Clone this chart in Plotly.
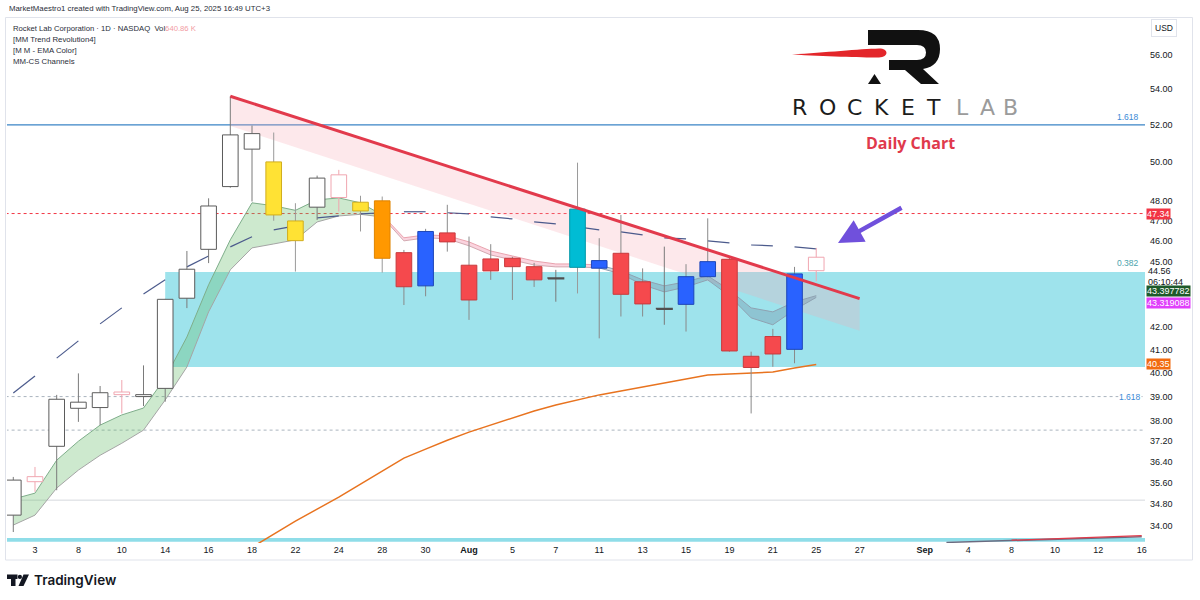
import math
import re
import pandas as pd
import plotly.graph_objects as go

# ---------------- data ----------------
candle_dates = [
    "2025-07-02", "2025-07-03", "2025-07-07", "2025-07-08", "2025-07-09", "2025-07-10",
    "2025-07-11", "2025-07-14", "2025-07-15", "2025-07-16", "2025-07-17", "2025-07-18",
    "2025-07-21", "2025-07-22", "2025-07-23", "2025-07-24", "2025-07-25", "2025-07-28",
    "2025-07-29", "2025-07-30", "2025-07-31", "2025-08-01", "2025-08-04", "2025-08-05",
    "2025-08-06", "2025-08-07", "2025-08-08", "2025-08-11", "2025-08-12", "2025-08-13",
    "2025-08-14", "2025-08-15", "2025-08-18", "2025-08-19", "2025-08-20", "2025-08-21",
    "2025-08-22", "2025-08-25",
]
opens = [34.40, 35.83, 37.00, 38.52, 38.55, 39.19, 39.00, 39.34, 43.28, 45.58,
         48.71, 50.68, 50.00, 46.00, 47.66, 49.32, 47.91, 47.98, 45.42, 43.85,
         46.38, 44.82, 45.12, 45.15, 44.75, 44.22, 44.72, 44.68, 45.39, 44.04,
         42.82, 43.00, 44.28, 45.10, 40.70, 41.56, 41.00, 45.20]
highs = [35.82, 36.20, 39.07, 39.97, 39.44, 39.69, 40.31, 43.25, 45.50, 48.11,
         53.60, 51.96, 51.58, 47.86, 49.28, 49.58, 48.24, 48.20, 45.55, 46.58,
         47.78, 46.20, 45.83, 45.22, 44.93, 44.60, 49.96, 46.12, 47.27, 44.67,
         45.71, 44.87, 47.10, 45.20, 40.90, 41.90, 44.74, 45.65]
lows = [33.79, 35.26, 35.32, 37.97, 37.84, 38.31, 38.61, 38.79, 42.83, 44.92,
        48.65, 47.95, 46.98, 44.52, 47.02, 47.44, 46.45, 44.47, 42.97, 43.37,
        45.47, 42.30, 44.13, 43.20, 43.80, 43.12, 43.50, 41.48, 42.45, 42.45,
        42.08, 41.78, 44.25, 40.90, 38.31, 40.25, 40.40, 44.06]
closes = [35.70, 35.64, 38.89, 38.77, 39.16, 39.08, 39.08, 43.23, 44.63, 47.72,
          51.45, 51.52, 47.27, 46.97, 49.15, 48.15, 47.47, 45.15, 43.81, 46.45,
          45.94, 43.20, 44.55, 44.75, 44.13, 44.18, 47.56, 45.04, 43.46, 43.02,
          42.78, 44.28, 44.99, 40.93, 40.22, 40.80, 44.41, 44.56]
candle_style = ["white", "pink", "white", "white", "white", "pink", "white", "white",
                "white", "white", "white", "white", "yellow", "yellow", "white", "pink",
                "yellow", "orange", "red", "blue", "red", "red", "red", "red", "red",
                "doji", "cyan", "blue", "red", "red", "doji", "blue", "blue", "red",
                "red", "red", "blue", "pink"]

# EMA ribbon edges
ema_fast = [34.99, 35.21, 36.46, 37.20, 37.84, 38.25, 38.53, 39.77, 41.54, 43.90,
            46.04, 47.88, 47.73, 47.50, 48.03, 48.13, 47.88, 47.27, 46.14, 46.28,
            46.24, 45.94, 45.50, 45.26, 45.02, 44.88, 44.88, 44.83, 44.55, 44.13,
            43.85, 44.04, 44.32, 43.66, 42.84, 42.66, 43.11, 43.397782]
ema_slow = [34.04, 34.40, 35.40, 36.08, 36.65, 37.12, 37.64, 38.86, 40.24, 42.66,
            44.60, 45.65, 45.84, 46.04, 46.92, 47.22, 47.30, 47.17, 45.99, 46.14,
            46.09, 45.75, 45.31, 45.07, 44.83, 44.74, 44.74, 44.69, 44.41, 43.90,
            43.57, 43.80, 44.13, 43.39, 42.39, 42.08, 42.75, 43.319088]
# channel mid line (drawn dashed, every other bar)
cs_mid = [39.15, 39.86, 40.62, 41.37, 42.12, 42.84, 43.48, 44.13, 44.74, 45.26,
          45.70, 46.19, 46.53, 46.73, 47.12, 47.22, 47.32, 47.38, 47.43, 47.43,
          47.38, 47.32, 47.17, 47.07, 46.92, 46.82, 46.68, 46.53, 46.43, 46.28,
          46.14, 46.09, 45.99, 45.89, 45.79, 45.75, 45.70, 45.60]
# long moving average (orange), from Jul 18
sma_values = [33.25, 33.72, 34.18, 34.62, 35.06, 35.55, 36.04, 36.54, 36.89, 37.24,
              37.56, 37.84, 38.12, 38.41, 38.65, 38.86, 39.07, 39.23, 39.40, 39.57,
              39.73, 39.90, 39.94, 39.98, 40.03, 40.20, 40.35]
sma_dates = candle_dates[11:]

trend_dates = ["2025-07-17", "2025-08-27"]
trend_top = [53.60, 43.26]
trend_bottom = [51.94, 41.82]

zone_start = "2025-07-14"
zone_top = 44.50
zone_bottom = 40.24

level_blue = 52.0
level_red = 47.34
level_dots = [39.0, 37.64]
level_gray = 34.95

bottom_band = [33.44, 33.58]
future_dates = ["2025-09-03", "2025-09-16"]
future_gray = [33.42, 33.62]
future_red_dates = ["2025-09-08", "2025-09-16"]
future_red = [33.50, 33.66]

price_ticks = [56, 54, 52, 50, 48, 47, 46, 45, 42, 41, 40, 39, 38, 37.2, 36.4, 35.6, 34.8, 34]
tick_dates = ["2025-07-03", "2025-07-08", "2025-07-10", "2025-07-14", "2025-07-16",
              "2025-07-18", "2025-07-22", "2025-07-24", "2025-07-28", "2025-07-30",
              "2025-08-01", "2025-08-05", "2025-08-07", "2025-08-11", "2025-08-13",
              "2025-08-15", "2025-08-19", "2025-08-21", "2025-08-25", "2025-08-27",
              "2025-09-02", "2025-09-04", "2025-09-08", "2025-09-10", "2025-09-12",
              "2025-09-16"]
tick_labels = ["3", "8", "10", "14", "16", "18", "22", "24", "28", "30", "<b>Aug</b>",
               "5", "7", "11", "13", "15", "19", "21", "25", "27", "<b>Sep</b>",
               "4", "8", "10", "12", "16"]

last_price = 44.56
tag_fast = 43.397782
tag_slow = 43.319088
tag_sma = 40.35

# ---------------- trading calendar -> x positions ----------------
days = pd.bdate_range("2025-07-01", "2025-09-16")
days = [d.strftime("%Y-%m-%d") for d in days if d.strftime("%Y-%m-%d") not in ("2025-07-04", "2025-09-01")]
pos = {d: k for k, d in enumerate(days)}
X = lambda d: pos[d]

x_min = pos["2025-07-03"] - 1.29
x_max = pos["2025-09-16"] + 0.15
y_min, y_max = 33.40, 58.29

# plot area in pixels
L, R, T, B = 7, 1145, 17, 543
def PXx(x):
    return (x - L) / (R - L)
def PXy(y):
    return (B - y) / (B - T)
def path_px(s):
    def rep(m):
        return f"{PXx(float(m.group(1))):.5f},{PXy(float(m.group(2))):.5f}"
    return re.sub(r"(-?\d+\.?\d*),(-?\d+\.?\d*)", rep, s)

fig = go.Figure()
def add(**kw):
    kw.setdefault("hoverinfo", "skip")
    kw.setdefault("showlegend", False)
    fig.add_trace(go.Scatter(**kw))

# cyan zone
add(x=[X(zone_start), x_max + 2, x_max + 2, X(zone_start), X(zone_start)],
    y=[zone_bottom, zone_bottom, zone_top, zone_top, zone_bottom],
    mode="lines", fill="toself", fillcolor="#9ee3ec", line=dict(width=0))
# bottom cyan band
add(x=[x_min - 2, x_max + 2, x_max + 2, x_min - 2, x_min - 2],
    y=[bottom_band[0], bottom_band[0], bottom_band[1], bottom_band[1], bottom_band[0]],
    mode="lines", fill="toself", fillcolor="#8fdde8", line=dict(width=0))

# horizontal levels
add(x=[x_min - 2, x_max + 2], y=[level_blue] * 2, mode="lines", line=dict(color="#3a84c6", width=1.4))
add(x=[x_min - 2, x_max + 2], y=[level_red] * 2, mode="lines", line=dict(color="#f23645", width=1, dash="dot"))
for v in level_dots:
    add(x=[x_min - 2, x_max + 2], y=[v] * 2, mode="lines", line=dict(color="#aab4be", width=1, dash="dot"))
add(x=[x_min - 2, x_max + 2], y=[level_gray] * 2, mode="lines", line=dict(color="#d6d9dd", width=1))

# pink channel under trend line
add(x=[X(trend_dates[0]), X(trend_dates[1]), X(trend_dates[1]), X(trend_dates[0]), X(trend_dates[0])],
    y=[trend_top[0], trend_top[1], trend_bottom[1], trend_bottom[0], trend_top[0]],
    mode="lines", fill="toself", fillcolor="rgba(246,165,178,0.26)", line=dict(width=0))

# EMA ribbon, three colour regimes
cx = [X(d) for d in candle_dates]
segments = [
    (0, 18, "rgba(102,187,106,0.33)", "#7fae8b", "#a5a5a5"),
    (17, 28, "rgba(244,143,170,0.38)", "#e9a3ae", "#d3a9b1"),
    (27, 38, "rgba(105,125,150,0.30)", "#8fa2b2", "#8fa2b2"),
]
for a, b, fc, c1, c2 in segments:
    add(x=cx[a:b], y=ema_fast[a:b], mode="lines", line=dict(color=c1, width=1))
    add(x=cx[a:b], y=ema_slow[a:b], mode="lines", line=dict(color=c2, width=1),
        fill="tonexty", fillcolor=fc)

# orange moving average
add(x=[X(d) for d in sma_dates], y=sma_values, mode="lines", line=dict(color="#e8731f", width=1.5))

# dashed channel mid line
dx, dy = [], []
for j in range(0, len(cs_mid) - 1, 2):
    dx += [cx[j], cx[j + 1], None]
    dy += [cs_mid[j], cs_mid[j + 1], None]
add(x=dx, y=dy, mode="lines", line=dict(color="#4b5a8c", width=1.2))

# future channel lines at bottom right
add(x=[X(d) for d in future_dates], y=future_gray, mode="lines", line=dict(color="#6b6b80", width=1.5))
add(x=[X(d) for d in future_red_dates], y=future_red, mode="lines", line=dict(color="#e03a4a", width=1.3))

# candles
styles = {
    "white": ("#ffffff", "#5b5b5b", "#7a7a7a"),
    "pink": ("#ffffff", "#f0a6b0", "#f0a6b0"),
    "yellow": ("#ffe234", "#d1ad1e", "#9a9a9a"),
    "orange": ("#ff9800", "#df8400", "#9a9a9a"),
    "red": ("#f5494d", "#c83a3d", "#8a8a8a"),
    "blue": ("#2962ff", "#1d46b8", "#8a8a8a"),
    "cyan": ("#00bcd4", "#0097a7", "#9a9a9a"),
    "doji": ("#505050", "#505050", "#7a7a7a"),
}
hw = 0.36
for st, (fill, edge, wick) in styles.items():
    idx = [j for j, s in enumerate(candle_style) if s == st]
    if not idx:
        continue
    wx, wy = [], []
    for j in idx:
        wx += [cx[j], cx[j], None]
        wy += [lows[j], highs[j], None]
    add(x=wx, y=wy, mode="lines", line=dict(color=wick, width=1))
for st, (fill, edge, wick) in styles.items():
    idx = [j for j, s in enumerate(candle_style) if s == st]
    if not idx:
        continue
    bx, by = [], []
    for j in idx:
        lo, hi = min(opens[j], closes[j]), max(opens[j], closes[j])
        x = cx[j]
        bx += [x - hw, x + hw, x + hw, x - hw, x - hw, None]
        by += [lo, lo, hi, hi, lo, None]
    add(x=bx, y=by, mode="lines", fill="toself", fillcolor=fill,
        line=dict(color=edge, width=1.4 if st == "doji" else 1))

# red trend line
add(x=[X(d) for d in trend_dates], y=trend_top, mode="lines", line=dict(color="#e23a4c", width=3))

# ---------------- layout ----------------
font_ui = "Liberation Sans"
ann = []
def A(**kw):
    kw.setdefault("showarrow", False)
    ann.append(kw)

# header and legend
A(x=PXx(7), y=PXy(8.5), xref="paper", yref="paper", xanchor="left", yanchor="middle",
  text="MarketMaestro1 created with TradingView.com, Aug 25, 2025 16:49 UTC+3",
  font=dict(family=font_ui, size=7.8, color="#2a2e39"))
A(x=PXx(11), y=PXy(28), xref="paper", yref="paper", xanchor="left", yanchor="middle",
  text="Rocket Lab Corporation · 1D · NASDAQ  Vol<span style='color:#f29ca3'>640.86 K</span>",
  font=dict(family=font_ui, size=7.7, color="#2a2e39"))
for k, t in enumerate(["[MM Trend Revolution4]", "[M M - EMA Color]", "MM-CS Channels"]):
    A(x=PXx(11), y=PXy(39 + 11 * k), xref="paper", yref="paper", xanchor="left", yanchor="middle",
      text=t, font=dict(family=font_ui, size=7.8, color="#2a2e39"))

# level labels
A(x=PXx(1141), y=math.log10(level_blue), xref="paper", yref="y", xanchor="right", yanchor="bottom",
  yshift=1, text="1.618", font=dict(family=font_ui, size=8.5, color="#3b8ad6"))
A(x=PXx(1141), y=math.log10(zone_top), xref="paper", yref="y", xanchor="right", yanchor="bottom",
  yshift=2, text="0.382", font=dict(family=font_ui, size=8.5, color="#4aa3ad"))
A(x=PXx(1142), y=math.log10(level_dots[0]), xref="paper", yref="y", xanchor="right", yanchor="middle",
  text="1.618", bgcolor="#ffffff", borderpad=0, font=dict(family=font_ui, size=8.5, color="#3b8ad6"))

# price tags on the axis (fast/slow tags pushed apart as the platform does)
for v, bg, txt, sh in [(level_red, "#f23645", "47.34", 0), (tag_fast, "#1e5a2a", "43.397782", 5),
                       (tag_slow, "#e040fb", "43.319088", -6), (tag_sma, "#f26b10", "40.35", 0)]:
    A(x=PXx(1146), y=math.log10(v), xref="paper", yref="y", xanchor="left", yanchor="middle",
      yshift=sh, text=txt, bgcolor=bg, borderpad=0, font=dict(family=font_ui, size=9, color="#ffffff"))
A(x=PXx(1146), y=math.log10(last_price), xref="paper", yref="y", xanchor="left", yanchor="middle",
  text="44.56", font=dict(family=font_ui, size=9, color="#131722"))
A(x=PXx(1146), y=math.log10(last_price), xref="paper", yref="y", xanchor="left", yanchor="middle",
  yshift=-11, text="06:10:44", font=dict(family=font_ui, size=9, color="#131722"))
A(x=PXx(1164), y=PXy(28), xref="paper", yref="paper", xanchor="center", yanchor="middle",
  text="USD", bordercolor="#e0e3eb", borderwidth=1, borderpad=3, bgcolor="#ffffff",
  font=dict(family=font_ui, size=8.5, color="#131722"))

# logo text
for ch, cxp, col in [("R", 799, "#1c1c1c"), ("O", 827, "#1c1c1c"), ("C", 854, "#1c1c1c"),
                     ("K", 881, "#1c1c1c"), ("E", 908, "#1c1c1c"), ("T", 933, "#1c1c1c"),
                     ("L", 962, "#9b9b9b"), ("A", 987, "#9b9b9b"), ("B", 1010, "#9b9b9b")]:
    A(x=PXx(cxp), y=PXy(107), xref="paper", yref="paper", xanchor="center", yanchor="middle",
      text=ch, font=dict(family="DejaVu Sans", size=22, color=col))
A(x=PXx(910), y=PXy(143), xref="paper", yref="paper", xanchor="center", yanchor="middle",
  text="<b>Daily Chart</b>", font=dict(family="Open Sans", size=16, color="#e0394c"))

# purple arrow
A(x=PXx(838), y=PXy(243), xref="paper", yref="paper", text="", showarrow=True,
  ax=65, ay=-36, arrowcolor="#7050dc", arrowwidth=4.5, arrowhead=2, arrowsize=1.1, standoff=0)

# footer
A(x=PXx(32), y=PXy(580), xref="paper", yref="paper", xanchor="left", yanchor="middle",
  text="TradingView", font=dict(family="Inter", size=13.5, color="#131722", weight=600))

shapes = []
# frame
for x0, y0, x1, y1 in [(5.5, 17.5, 1192.5, 17.5), (5.5, 17.5, 5.5, 560), (1192.5, 17.5, 1192.5, 560),
                       (5.5, 560, 1192.5, 560)]:
    shapes.append(dict(type="line", xref="paper", yref="paper", x0=PXx(x0), y0=PXy(y0),
                       x1=PXx(x1), y1=PXy(y1), line=dict(color="#e0e3eb", width=1)))
# Rocket Lab mark
shapes.append(dict(type="path", xref="paper", yref="paper", fillcolor="#e3262a", line=dict(width=0),
                   path=path_px("M792,54.5 C825,52.5 860,49 879,48.5 C889,48.5 889,57 879,57.5 C860,57.5 825,56.5 792,54.5 Z")))
shapes.append(dict(type="path", xref="paper", yref="paper", fillcolor="#111111", line=dict(width=0),
                   path=path_px("M868,30 L918,30 Q940,30 940,49 Q940,66 923,69 L939,84 L921,84 L905,70 L889,70 "
                                "L889,60 L917,60 Q926,60 926,52.5 Q926,45 917,45 L868,45 Z")))
shapes.append(dict(type="path", xref="paper", yref="paper", fillcolor="#111111", line=dict(width=0),
                   path=path_px("M868,84 L881,84 L874.5,74 Z")))
# TradingView icon
shapes.append(dict(type="path", xref="paper", yref="paper", fillcolor="#131722", line=dict(width=0),
                   path=path_px("M7,574.5 L17.5,574.5 L17.5,579 L15.5,579 L15.5,586 L11,586 L11,579 L7,579 Z")))
shapes.append(dict(type="circle", xref="paper", yref="paper", fillcolor="#131722", line=dict(width=0),
                   x0=PXx(17.8), x1=PXx(22), y0=PXy(579), y1=PXy(574.8)))
shapes.append(dict(type="path", xref="paper", yref="paper", fillcolor="#131722", line=dict(width=0),
                   path=path_px("M23.5,574.5 L29,574.5 L23.5,586 L18.5,586 Z")))

fig.update_layout(
    width=1200, height=600,
    margin=dict(l=L, r=1200 - R, t=T, b=600 - B),
    paper_bgcolor="#ffffff", plot_bgcolor="#ffffff",
    showlegend=False,
    xaxis=dict(range=[x_min, x_max], showgrid=False, zeroline=False, showline=False,
               tickmode="array", tickvals=[X(d) for d in tick_dates], ticktext=tick_labels,
               ticks="", tickfont=dict(family=font_ui, size=9, color="#131722"),
               fixedrange=True),
    yaxis=dict(type="log", range=[math.log10(y_min), math.log10(y_max)], side="right",
               showgrid=False, zeroline=False, showline=False, ticks="",
               tickmode="array", tickvals=price_ticks, ticktext=[f"{v:.2f}" for v in price_ticks],
               tickfont=dict(family=font_ui, size=9, color="#131722"),
               ticklabelstandoff=4, fixedrange=True),
    annotations=ann,
    shapes=shapes,
)

fig.write_html("out.html", config={"displayModeBar": False},
               post_script="document.body.style.margin='0px';")
